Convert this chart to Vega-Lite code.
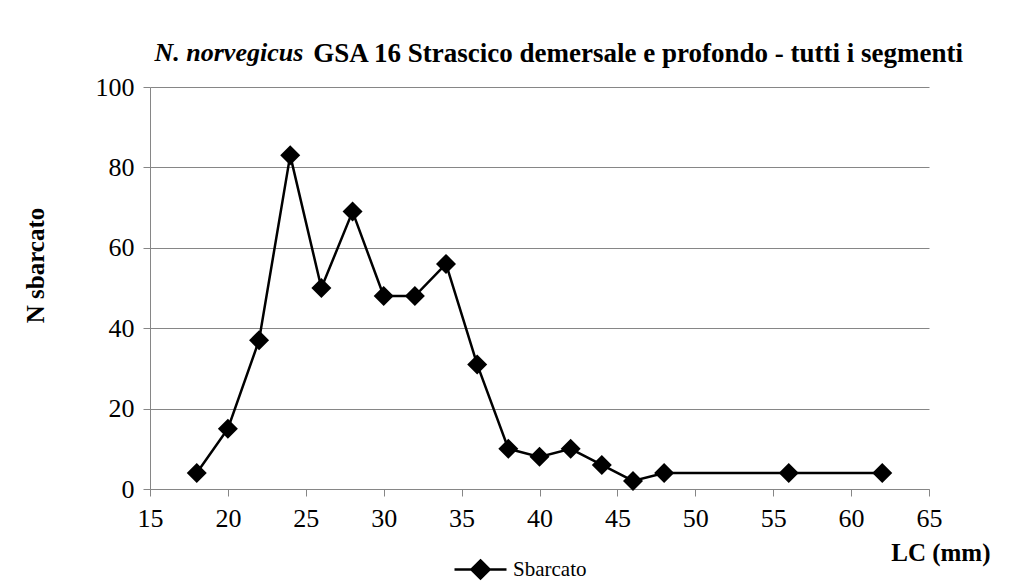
{
  "$schema": "https://vega.github.io/schema/vega-lite/v6.json",
  "width": 779,
  "height": 402,
  "autosize": {"type": "none"},
  "padding": {"left": 150, "top": 87, "right": 93, "bottom": 95},
  "background": "white",
  "config": {
    "view": {"stroke": null},
    "font": "Liberation Serif",
    "axis": {"labelFont": "Liberation Serif", "titleFont": "Liberation Serif", "labelColor": "black", "titleColor": "black"},
    "legend": {"labelFont": "Liberation Serif", "titleFont": "Liberation Serif"}
  },
  "title": {
    "text": "GSA 16 Strascico demersale e profondo - tutti i segmenti",
    "font": "Liberation Serif",
    "fontSize": 27,
    "fontWeight": "bold",
    "color": "black",
    "anchor": "end",
    "frame": "group",
    "dx": 34,
    "baseline": "alphabetic",
    "offset": -50
  },
  "data": {
    "values": [
      {"lc": 18, "n": 4, "serie": "Sbarcato"},
      {"lc": 20, "n": 15, "serie": "Sbarcato"},
      {"lc": 22, "n": 37, "serie": "Sbarcato"},
      {"lc": 24, "n": 83, "serie": "Sbarcato"},
      {"lc": 26, "n": 50, "serie": "Sbarcato"},
      {"lc": 28, "n": 69, "serie": "Sbarcato"},
      {"lc": 30, "n": 48, "serie": "Sbarcato"},
      {"lc": 32, "n": 48, "serie": "Sbarcato"},
      {"lc": 34, "n": 56, "serie": "Sbarcato"},
      {"lc": 36, "n": 31, "serie": "Sbarcato"},
      {"lc": 38, "n": 10, "serie": "Sbarcato"},
      {"lc": 40, "n": 8, "serie": "Sbarcato"},
      {"lc": 42, "n": 10, "serie": "Sbarcato"},
      {"lc": 44, "n": 6, "serie": "Sbarcato"},
      {"lc": 46, "n": 2, "serie": "Sbarcato"},
      {"lc": 48, "n": 4, "serie": "Sbarcato"},
      {"lc": 56, "n": 4, "serie": "Sbarcato"},
      {"lc": 62, "n": 4, "serie": "Sbarcato"}
    ]
  },
  "layer": [
    {
      "mark": {"type": "line", "strokeWidth": 2.5},
      "encoding": {
        "x": {
          "field": "lc", "type": "quantitative",
          "scale": {"domain": [15, 65], "nice": false, "zero": false},
          "axis": {
            "values": [15, 20, 25, 30, 35, 40, 45, 50, 55, 60, 65],
            "grid": false,
            "domainColor": "#868686",
            "tickColor": "#868686",
            "tickSize": 7,
            "labelFont": "Liberation Serif",
            "labelFontSize": 26,
            "labelPadding": 9,
            "labelFlush": false,
            "labelBound": false,
            "labelOverlap": false,
            "title": "LC (mm)",
            "titleFont": "Liberation Serif",
            "titleFontSize": 25,
            "titleFontWeight": "bold",
            "titleX": 840,
            "titleY": 71,
            "titleAlign": "right",
            "titleAnchor": null,
            "titleBaseline": "alphabetic"
          }
        },
        "y": {
          "field": "n", "type": "quantitative",
          "scale": {"domain": [0, 100], "nice": false},
          "axis": {
            "values": [0, 20, 40, 60, 80, 100],
            "grid": true,
            "gridColor": "#868686",
            "gridWidth": 1,
            "domainColor": "#868686",
            "tickColor": "#868686",
            "tickSize": 7,
            "labelFont": "Liberation Serif",
            "labelFontSize": 26,
            "labelPadding": 9,
            "labelFlush": false,
            "labelBound": false,
            "title": "N sbarcato",
            "titleFont": "Liberation Serif",
            "titleFontSize": 25,
            "titleFontWeight": "bold",
            "titleAngle": 270,
            "titleX": -115,
            "titleY": 178,
            "titleAlign": "center",
            "titleBaseline": "middle"
          }
        },
        "color": {
          "field": "serie", "type": "nominal",
          "scale": {"range": ["black"]},
          "legend": {
            "orient": "none",
            "legendX": 303,
            "legendY": 455,
            "title": null,
            "symbolType": "M-1,0L1,0M0,-0.35L0.35,0L0,0.35L-0.35,0Z",
            "symbolSize": 2704,
            "symbolStrokeWidth": 2.5,
            "symbolFillColor": "black",
            "symbolStrokeColor": "black",
            "labelFont": "Liberation Serif",
            "labelFontSize": 21,
            "labelColor": "black",
            "labelOffset": 5
          }
        }
      }
    },
    {
      "mark": {"type": "point", "shape": "diamond", "size": 400, "filled": true, "color": "black", "opacity": 1},
      "encoding": {
        "x": {
          "field": "lc", "type": "quantitative",
          "axis": {
            "orient": "top",
            "domain": false,
            "ticks": false,
            "labels": false,
            "grid": false,
            "title": "N. norvegicus",
            "titleFont": "Liberation Serif",
            "titleFontSize": 26,
            "titleFontStyle": "italic",
            "titleFontWeight": "bold",
            "titleColor": "black",
            "titleX": 4,
            "titleY": -27,
            "titleAlign": "left",
            "titleAnchor": null,
            "titleBaseline": "alphabetic",
            "titleAngle": 0
          }
        },
        "y": {"field": "n", "type": "quantitative"}
      }
    }
  ],
  "resolve": {"axis": {"x": "independent"}}
}
